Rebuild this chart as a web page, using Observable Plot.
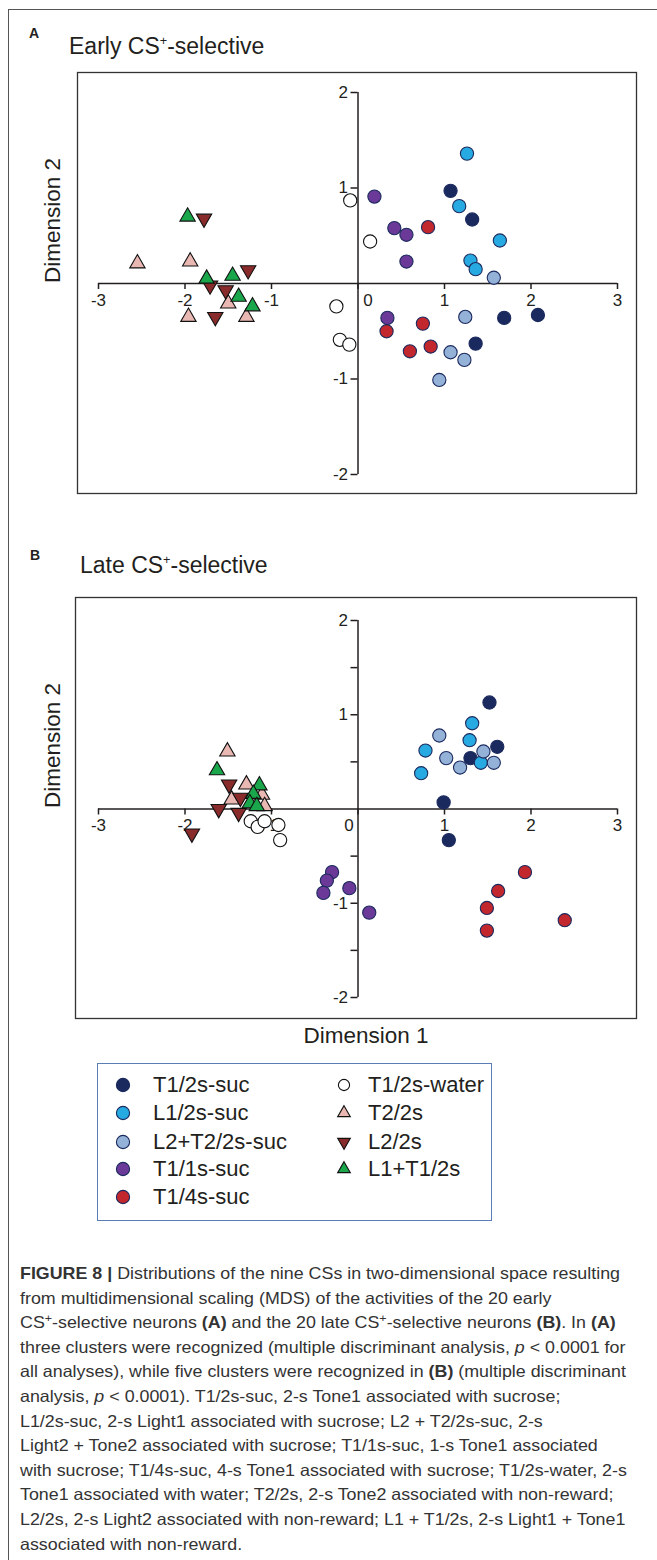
<!DOCTYPE html>
<html><head><meta charset="utf-8">
<script src="https://cdn.jsdelivr.net/npm/d3@7"></script>
<script src="https://cdn.jsdelivr.net/npm/@observablehq/plot@0.6"></script>
<style>
body{margin:0;background:#fff;font-family:"Liberation Sans",Arial,Helvetica,sans-serif;color:#231f20;}
#page{position:relative;width:657px;height:1560px;overflow:hidden;background:#fff;}
#frame{position:absolute;left:8px;top:9px;width:700px;height:1600px;border-left:1.5px solid #555;border-top:1.5px solid #555;}
.abs{position:absolute;white-space:nowrap;}
.letter{font-weight:bold;font-size:14px;line-height:14px;}
.title{font-size:23px;line-height:23px;}
.title sup{font-size:0.55em;vertical-align:0.75em;line-height:0;}
.svgwrap{position:absolute;left:0;}
#legend{position:absolute;left:97px;top:1063px;width:395px;height:158px;border:1.3px solid #5a7db5;box-sizing:border-box;}
.legtext{font-size:22px;line-height:22px;}
#caption{position:absolute;left:20px;top:1261px;font-size:16.5px;line-height:24.6px;color:#333;transform-origin:0 0;}
#caption div{white-space:nowrap;}
#caption sup{font-size:0.7em;vertical-align:0.5em;line-height:0;}
</style>
</head>
<body>
<div id="page">
  <div id="frame"></div>
  <div class="abs letter" style="left:29px;top:26px;">A</div>
  <div class="abs title" style="left:69px;top:34.7px;">Early CS<sup>+</sup>-selective</div>
  <div class="abs letter" style="left:30px;top:548px;">B</div>
  <div class="abs title" style="left:80px;top:553.7px;">Late CS<sup>+</sup>-selective</div>
  <div class="svgwrap" id="panelA" style="top:0px;"></div>
  <div class="svgwrap" id="panelB" style="top:500px;"></div>
  <div id="legend"></div>
  <div id="legendItems"></div>
  <div id="caption">
    <div><b>FIGURE 8 |</b> Distributions of the nine CSs in two-dimensional space resulting</div>
    <div>from multidimensional scaling (MDS) of the activities of the 20 early</div>
    <div>CS<sup>+</sup>-selective neurons <b>(A)</b> and the 20 late CS<sup>+</sup>-selective neurons <b>(B)</b>. In <b>(A)</b></div>
    <div>three clusters were recognized (multiple discriminant analysis, <i>p</i> &lt; 0.0001 for</div>
    <div>all analyses), while five clusters were recognized in <b>(B)</b> (multiple discriminant</div>
    <div>analysis, <i>p</i> &lt; 0.0001). T1/2s-suc, 2-s Tone1 associated with sucrose;</div>
    <div>L1/2s-suc, 2-s Light1 associated with sucrose; L2 + T2/2s-suc, 2-s</div>
    <div>Light2 + Tone2 associated with sucrose; T1/1s-suc, 1-s Tone1 associated</div>
    <div>with sucrose; T1/4s-suc, 4-s Tone1 associated with sucrose; T1/2s-water, 2-s</div>
    <div>Tone1 associated with water; T2/2s, 2-s Tone2 associated with non-reward;</div>
    <div>L2/2s, 2-s Light2 associated with non-reward; L1 + T1/2s, 2-s Light1 + Tone1</div>
    <div>associated with non-reward.</div>
  </div>
</div>
<script>
// ---- categories ----
const categories = ["T1/2s-suc","L1/2s-suc","L2+T2/2s-suc","T1/1s-suc","T1/4s-suc","T1/2s-water","T2/2s","L2/2s","L1+T1/2s"];
const catFill    = ["#1b2a5e","#27aae1","#94b2d8","#6b3a98","#c1272d","#ffffff","#e9b8b3","#8a2b2b","#1aa64a"];
const catStroke  = ["#1b2a5e","#1b2a5e","#1b2a5e","#1b2a5e","#1b2a5e","#111111","#111111","#111111","#111111"];
const catSymbol  = ["circle","circle","circle","circle","circle","circle","triangle","triangle","triangle"];
const catRotate  = [0,0,0,0,0,0,0,180,0];

// ---- axis ticks ----
const xTicks = [-3,-2,-1,0,1,2,3];
const xTickLabels = ["-3","-2","-1","0","1","2","3"];
const yTicks = [-2,-1,1,2];
const yTickLabels = ["-2","-1","1","2"];
const yMinorTicksB = [-1.5,-0.5,0.5,1.5];

// ---- Panel A (early CS+-selective): [dim1, dim2] ----
const earlyT12suc   = [[1.07,0.97],[1.32,0.67],[1.69,-0.36],[2.08,-0.33],[1.36,-0.63]];
const earlyL12suc   = [[1.26,1.36],[1.17,0.81],[1.64,0.45],[1.30,0.24],[1.36,0.15]];
const earlyL2T22suc = [[1.57,0.06],[1.24,-0.35],[1.07,-0.72],[1.23,-0.80],[0.94,-1.01]];
const earlyT11suc   = [[0.19,0.91],[0.42,0.58],[0.56,0.51],[0.56,0.23],[0.34,-0.36]];
const earlyT14suc   = [[0.81,0.59],[0.75,-0.42],[0.33,-0.50],[0.60,-0.71],[0.84,-0.66]];
const earlyT12water = [[-0.09,0.87],[0.14,0.44],[-0.25,-0.24],[-0.21,-0.59],[-0.10,-0.64]];
const earlyT22      = [[-2.55,0.21],[-1.94,0.23],[-1.50,-0.21],[-1.96,-0.35],[-1.29,-0.35]];
const earlyL22      = [[-1.78,0.68],[-1.71,-0.02],[-1.27,0.14],[-1.53,-0.07],[-1.65,-0.35]];
const earlyL1T12    = [[-1.97,0.70],[-1.75,0.05],[-1.45,0.08],[-1.38,-0.14],[-1.22,-0.24]];

// ---- Panel B (late CS+-selective): [dim1, dim2] ----
const lateT12suc   = [[1.52,1.13],[1.61,0.66],[1.30,0.54],[0.99,0.07],[1.05,-0.33]];
const lateL12suc   = [[1.32,0.91],[1.29,0.73],[0.78,0.62],[0.73,0.38],[1.42,0.49]];
const lateL2T22suc = [[0.94,0.78],[1.02,0.54],[1.18,0.44],[1.45,0.61],[1.57,0.49]];
const lateT11suc   = [[-0.30,-0.67],[-0.36,-0.76],[-0.40,-0.89],[-0.10,-0.84],[0.13,-1.10]];
const lateT14suc   = [[1.93,-0.67],[1.62,-0.87],[1.49,-1.05],[1.49,-1.29],[2.39,-1.18]];
const lateT12water = [[-1.24,-0.13],[-1.16,-0.19],[-1.08,-0.13],[-0.92,-0.17],[-0.90,-0.33]];
const lateT22      = [[-1.51,0.61],[-1.29,0.26],[-1.46,0.10],[-1.11,0.15],[-1.08,0.03]];
const lateL22      = [[-1.49,0.26],[-1.36,0.12],[-1.61,0.00],[-1.38,-0.04],[-1.92,-0.26]];
const lateL1T12    = [[-1.63,0.41],[-1.14,0.25],[-1.21,0.16],[-1.25,0.06],[-1.17,0.03]];

const earlySeries = [earlyT12suc,earlyL12suc,earlyL2T22suc,earlyT11suc,earlyT14suc,earlyT12water,earlyT22,earlyL22,earlyL1T12];
const lateSeries  = [lateT12suc,lateL12suc,lateL2T22suc,lateT11suc,lateT14suc,lateT12water,lateT22,lateL22,lateL1T12];

const FONT = "'Liberation Sans', Arial, Helvetica, sans-serif";
const INK = "#231f20";

function dotMarks(series) {
  return series.map((pts, i) => Plot.dot(pts.map(p => ({x: p[0], y: p[1], cat: categories[i]})), {
    x: "x", y: "y",
    symbol: catSymbol[i],
    r: catSymbol[i] === "circle" ? 6.6 : 5.7,
    fill: catFill[i], stroke: catStroke[i], strokeWidth: 1.1,
    rotate: catRotate[i]
  }));
}

function panel({series, height, mTop, mBottom, mLeft, yRange, minorY, zeroDx, dim1}) {
  const pxPerY = Math.abs(yRange[0] - yRange[1]) / 4;
  const pxPerX = (617 - 98) / 6;
  const tickLenY = 6 / pxPerY;
  const tickLenX = 7 / pxPerX;
  const yAllTicks = minorY ? yTicks.concat(minorY) : yTicks;
  const marks = [
    Plot.frame({stroke: "#333", strokeWidth: 1.3}),
    Plot.ruleY([0], {x1: -3, x2: 3, stroke: INK, strokeWidth: 1.5}),
    Plot.ruleX([0], {y1: -2, y2: 2, stroke: INK, strokeWidth: 1.5}),
    Plot.ruleX(xTicks, {x: d => d, y1: 0, y2: -tickLenY, stroke: INK, strokeWidth: 1.5}),
    Plot.ruleY(yAllTicks, {y: d => d, x1: -tickLenX, x2: 0, stroke: INK, strokeWidth: 1.5}),
    Plot.text(xTicks.filter(d => d !== 0), {x: d => d, y: 0, dy: 17, text: d => xTickLabels[xTicks.indexOf(d)], fontSize: 17, fill: INK}),
    Plot.text([0], {x: d => d, y: 0, dx: zeroDx, dy: 17, text: d => xTickLabels[xTicks.indexOf(d)], fontSize: 17, fill: INK}),
    Plot.text(yTicks, {x: 0, y: d => d, dx: -10, textAnchor: "end", text: d => yTickLabels[yTicks.indexOf(d)], fontSize: 17, fill: INK}),
    ...dotMarks(series),
    Plot.text(["Dimension 2"], {frameAnchor: "left", dx: 52 - mLeft, rotate: -90, fontSize: 22.5, fill: INK})
  ];
  if (dim1) marks.push(Plot.text(["Dimension 1"], {frameAnchor: "bottom", dx: 10, dy: 24, fontSize: 22.5, fill: INK}));
  return Plot.plot({
    width: 657, height,
    marginLeft: mLeft, marginRight: 21, marginTop: mTop, marginBottom: mBottom,
    x: {domain: [-3, 3], range: [98, 617], axis: null},
    y: {domain: [-2, 2], range: yRange, axis: null},
    style: {fontFamily: FONT, fontSize: "17px", background: "transparent", overflow: "visible", color: INK},
    marks
  });
}

document.getElementById("panelA").appendChild(panel({
  series: earlySeries, height: 500, mTop: 72, mBottom: 7, mLeft: 77, yRange: [474, 92], minorY: null, zeroDx: 10, dim1: false
}));
document.getElementById("panelB").appendChild(panel({
  series: lateSeries, height: 560, mTop: 97, mBottom: 42, mLeft: 75, yRange: [497, 120], minorY: yMinorTicksB, zeroDx: -9, dim1: true
}));

// ---- legend ----
const legendCol = [0,0,0,0,0,1,1,1,1];
const legendRow = [0,1,2,3,4,0,1,2,3];
const rowY = [1085, 1113, 1142, 1169, 1197];
const colMarkX = [123, 344];
const colTextX = [153, 368];
const items = document.getElementById("legendItems");
categories.forEach((name, i) => {
  const c = legendCol[i], r = legendRow[i];
  const cx = colMarkX[c], cy = rowY[r];
  const ns = "http://www.w3.org/2000/svg";
  const svg = document.createElementNS(ns, "svg");
  svg.setAttribute("width", 20); svg.setAttribute("height", 20);
  svg.style.position = "absolute"; svg.style.left = (cx - 10) + "px"; svg.style.top = (cy - 10) + "px";
  const g = document.createElementNS(ns, "path");
  let size;
  if (catSymbol[i] === "circle") size = Math.PI * (i === 5 ? 5.6 : 6.6) ** 2;
  else size = Math.PI * 4.7 ** 2;
  const sym = catSymbol[i] === "circle" ? d3.symbolCircle : d3.symbolTriangle;
  g.setAttribute("d", d3.symbol(sym, size)());
  g.setAttribute("transform", `translate(10,10) rotate(${catRotate[i]})`);
  g.setAttribute("fill", catFill[i]);
  g.setAttribute("stroke", catStroke[i]);
  g.setAttribute("stroke-width", 1.1);
  svg.appendChild(g);
  items.appendChild(svg);
  const t = document.createElement("div");
  t.className = "abs legtext";
  t.style.left = colTextX[c] + "px";
  t.style.top = (cy - 10.8) + "px";
  t.textContent = name;
  items.appendChild(t);
});

// ---- caption fit ----
const cap = document.getElementById("caption");
const first = cap.firstElementChild;
first.style.display = "inline-block";
const w = first.getBoundingClientRect().width;
first.style.display = "block";
cap.style.transform = `scaleX(${600 / w})`;
</script>
</body></html>
